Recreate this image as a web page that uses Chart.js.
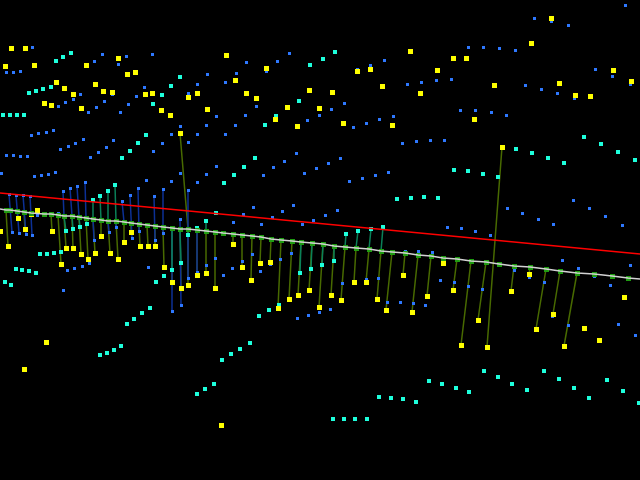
<!DOCTYPE html>
<html><head><meta charset="utf-8">
<style>html,body{margin:0;padding:0;background:#000;overflow:hidden}canvas{display:block}</style>
<script src="https://cdn.jsdelivr.net/npm/chart.js@4/dist/chart.umd.min.js"></script>
</head><body><canvas id="c" width="640" height="480"></canvas>
<script>
const yellowPoints=[[11,48],[25,48],[5,66],[34,65],[118,58],[86,65],[127,74],[135,72],[56,82],[64,88],[73,94],[95,84],[103,91],[112,92],[44,103],[51,105],[81,108],[145,94],[152,93],[188,97],[197,93],[161,110],[170,115],[207,109],[180,133],[226,55],[266,68],[235,80],[246,93],[256,98],[287,107],[309,90],[319,108],[275,119],[297,126],
[551,18],[531,43],[410,51],[453,58],[466,58],[357,71],[370,69],[437,70],[382,86],[420,93],[494,85],[332,92],[559,83],[575,95],[590,96],[613,70],[631,81],[343,123],[392,125],[474,119],[502,147],
[0,231],[8,246],[18,218],[25,229],[31,214],[37,210],[44,214],[52,231],[61,264],[66,248],[73,248],[81,254],[88,259],[95,253],[101,236],[110,253],[118,259],[124,242],[131,232],[140,246],[148,246],[155,246],[164,267],[172,282],[181,288],[188,285],[197,275],[206,273],
[215,288],[233,244],[242,267],[251,280],[260,263],[270,262],[278,308],[289,299],[298,295],[309,290],[319,307],[331,295],[341,300],[354,282],[366,282],[377,299],[386,310],[403,275],[412,312],[427,296],
[443,263],[453,290],[478,320],[511,291],[529,274],[553,314],[624,297],[46,342],[24,369],[221,425],[461,345],[487,347],[536,329],[564,346],[584,328],[599,340]];
const cyanPoints=[[71,53],[63,57],[56,61],[310,65],[180,77],[171,86],[162,95],[153,104],[51,87],[43,89],[36,91],[29,93],[3,115],[10,115],[17,115],[24,115],[146,135],[138,143],[130,151],[122,158],[255,158],[299,101],[276,116],[265,125],
[335,52],[323,59],[584,137],[601,144],[618,152],[635,160],[516,149],[532,153],[548,158],
[93,200],[100,196],[108,191],[115,185],[66,231],[73,229],[80,227],[87,224],[40,254],[47,254],[54,253],[61,252],[16,269],[22,270],[29,271],[36,273],[5,282],[11,285],[134,319],[142,313],[150,308],[156,282],[164,276],[172,270],[181,263],[188,235],[197,228],[206,221],
[216,213],[244,167],[234,175],[224,183],[346,234],[358,231],[371,229],[383,227],[334,261],[322,265],[311,269],[300,273],[279,305],[269,310],[259,316],[397,199],[411,198],[424,197],
[454,170],[468,171],[483,174],[498,177],[438,198],[564,163],
[100,355],[107,353],[114,350],[121,346],[127,324],[222,360],[231,354],[240,349],[250,343],[197,394],[205,389],[214,384],
[333,419],[344,419],[355,419],[367,419],[379,397],[391,398],[403,399],[416,402],[429,381],[442,384],[456,388],[469,392],[484,371],[498,377],[512,384],[527,390],[544,371],[559,379],[574,388],[589,398],[607,380],[623,391],[639,403]];
const bluePoints=[[32,47],[102,54],[94,61],[126,56],[118,64],[152,54],[6,72],[13,72],[20,71],[144,87],[80,94],[73,99],[65,102],[58,106],[112,94],[104,101],[96,107],[88,112],[136,96],[128,104],[120,112],[188,93],[197,84],[207,74],[225,82],[236,73],[246,62],[266,71],[277,61],[289,53],[216,116],[256,106],[245,115],[235,125],[225,134],[206,125],[197,134],[188,142],[180,126],[171,134],[162,143],[153,151],[307,120],[319,115],[296,153],[53,130],[46,132],[38,133],[31,135],[83,139],[75,143],[68,146],[60,149],[113,140],[106,147],[98,152],[90,157],[6,155],[13,155],[20,156],[27,156],
[625,5],[534,18],[551,21],[568,25],[468,47],[483,47],[499,48],[515,50],[595,69],[612,76],[630,84],[357,69],[370,65],[384,60],[407,84],[421,82],[436,80],[451,79],[525,85],[541,89],[557,93],[574,98],[344,103],[331,109],[393,116],[379,119],[366,123],[353,127],[460,110],[475,110],[491,112],[506,115],[402,143],[416,141],[430,140],[444,140],[340,158],
[1,173],[34,176],[41,175],[48,174],[55,172],[63,191],[70,188],[77,186],[85,182],[9,194],[16,195],[23,195],[30,196],[146,180],[171,181],[197,182],[206,174],[180,173],[138,188],[130,195],[122,201],[163,189],[154,196],[188,190],[180,219],[163,233],[12,232],[19,233],[26,234],[32,235],[132,238],[139,231],[116,227],[109,232],[94,240],[155,240],[67,270],[74,268],[82,266],[89,263],[148,267],[63,290],[206,265],[197,272],[188,278],[181,305],[172,311],[58,213],[37,215],
[216,166],[273,167],[263,175],[284,161],[304,173],[316,168],[328,163],[349,181],[362,178],[375,175],[388,172],[233,222],[243,214],[253,207],[261,224],[272,217],[282,211],[293,205],[302,224],[313,220],[325,215],[337,210],[215,258],[223,275],[232,268],[242,261],[252,254],[260,271],[270,264],[280,259],[291,253],[297,318],[308,315],[319,312],[330,309],[342,283],[366,279],[378,278],[387,302],[400,302],[405,251],[418,251],[413,303],[425,305],
[432,252],[447,227],[461,228],[475,231],[490,235],[440,280],[454,282],[468,286],[482,289],[507,208],[522,213],[538,219],[553,224],[573,200],[589,208],[605,216],[622,225],[562,260],[578,268],[594,276],[610,285],[630,265],[514,270],[529,277],[544,282],[552,316],[568,325],[618,324],[635,335]];
const modelX=[0,6,10,17,24,31,44,51,58,64,72,79,86,93,101,108,116,124,131,139,147,155,163,172,180,188,197,206,215,223,233,242,252,261,271,281,292,301,312,323,334,345,356,369,381,392,405,418,431,443,457,471,486,499,514,530,546,560,577,594,612,628,640];
const modelY=[209,210,210,211,212,213,214,214,215,216,216,217,218,219,220,221,221,222,223,224,225,226,227,228,229,229,230,231,232,233,234,235,236,237,239,240,241,242,243,244,246,247,248,249,251,252,253,255,256,258,259,261,262,264,266,267,269,271,273,274,276,278,279];
const redX=[0,640];
const redY=[193,254];
const oliveStems=[[6,210,8,246],[17,211,18,218],[24,212,25,229],[51,214,52,231],[58,215,61,264],[64,216,66,248],[72,216,73,248],[79,217,81,254],[86,218,88,259],[93,219,95,253],[101,220,101,236],[108,221,110,253],[116,221,118,259],[124,222,124,242],[131,223,131,232],[139,224,140,246],[147,225,148,246],[155,226,155,246],[163,227,164,267],[172,228,172,282],[180,229,181,288],[188,229,188,285],[197,230,197,275],[206,231,206,273],[180,133,188,229],
[215,232,215,288],[233,234,233,244],[242,235,242,267],[252,236,251,280],[261,237,260,263],[271,239,270,262],[281,240,278,308],[292,241,289,299],[301,242,298,295],[312,243,309,290],[323,244,319,307],[334,246,331,295],[345,247,341,300],[356,248,354,282],[369,249,366,282],[381,251,377,299],[392,252,386,310],[405,253,403,275],[418,255,412,312],
[431,256,427,296],[457,259,453,290],[471,261,461,345],[486,262,478,320],[502,147,487,347],[514,266,511,291],[530,267,529,274],[546,269,536,329],[560,271,553,314],[577,273,564,346],[594,274,584,328],[612,276,599,340],[628,278,624,297]];
const blueStems=[[9,194,12,232],[16,195,19,233],[23,195,26,234],[30,196,32,235],[63,191,64,216],[70,188,72,216],[77,186,79,217],[85,182,86,218],[93,219,94,240],[108,221,109,232],[122,201,124,222],[116,221,116,227],[130,195,132,238],[138,188,139,231],[154,196,155,240],[163,189,163,233],[188,190,188,278],[180,219,181,305],[172,228,172,311],[197,230,197,272],[206,231,206,265],
[233,222,232,268],[243,214,242,261],[253,207,252,254],[261,224,260,271],[272,217,270,264],[282,211,280,259],[293,205,291,253],[302,224,301,242],[313,220,312,243],[325,215,323,244],[337,210,334,246],[215,232,215,258],[369,249,366,279],[381,251,378,278],
[447,227,440,280],[461,228,454,282],[475,231,468,286],[490,235,482,289],[538,219,529,277],[553,224,544,282],[562,260,552,316],[578,268,577,273],[594,274,594,276],[622,225,610,285],[630,265,618,324]];
const cyanStems=[[93,200,93,219],[100,196,101,220],[108,191,108,221],[115,185,116,221],[64,216,66,231],[72,216,73,229],[79,217,80,227],[86,218,87,224],[180,229,181,263],[172,228,172,270],[188,229,188,235],[197,228,197,230],[206,221,206,231],
[346,234,345,247],[358,231,356,248],[371,229,369,249],[383,227,381,251],[334,246,334,261],[323,244,322,265],[312,243,311,269],[301,242,300,273]];
const toXY=a=>a.map(p=>({x:p[0],y:p[1]}));
const segs=a=>a.flatMap(s=>[{x:s[0],y:s[1]},{x:s[2],y:s[3]},{x:NaN,y:NaN}]);
const zip=(xs,ys)=>xs.map((x,i)=>({x,y:ys[i]}));
const line=(data,color,w,order)=>({type:'line',data,borderColor:color,borderWidth:w,pointRadius:0,spanGaps:false,tension:0,fill:false,order,xAxisID:'x2',yAxisID:'y2',parsing:false,normalized:false});
const pts=(data,color,side,order,even)=>({type:'scatter',data,backgroundColor:color,borderWidth:0,pointStyle:'rect',pointRadius:side/Math.SQRT2,pointHoverRadius:side/Math.SQRT2,order,xAxisID:even?'x2':'x',yAxisID:even?'y2':'y'});
const hx=(min,max)=>({type:'linear',display:false,min,max});
new Chart(document.getElementById('c'),{
 type:'scatter',
 data:{datasets:[
  line(segs(oliveStems),'#486a00',1.5,10),
  line(segs(blueStems),'#0c3096',1.5,9),
  line(segs(cyanStems),'#0a8058',1.5,8),
  pts(toXY(bluePoints),'#2e78ff',3,7,false),
  pts(toXY(cyanPoints),'#1effdc',4,6,true),
  pts(toXY(yellowPoints),'#ffff00',5,5,false),
  pts(zip(modelX.slice(1,-1),modelY.slice(1,-1)),'#1f9c12',5,4,false),
  line(zip(redX,redY),'#ff0000',1.5,3),
  line(zip(modelX,modelY),'#d2d2d2',1.5,2)
 ]},
 options:{
  responsive:false,animation:false,devicePixelRatio:1,
  layout:{padding:0,autoPadding:false},
  plugins:{legend:{display:false},tooltip:{enabled:false},title:{display:false}},
  events:[],
  scales:{
   x:hx(-0.5,639.5),
   y:{...hx(-0.5,479.5),reverse:true},
   x2:hx(0,640),
   y2:{...hx(0,480),reverse:true}
  }
 },
 plugins:[{id:'bg',beforeDraw(c){const g=c.ctx;g.save();g.fillStyle='#000';g.fillRect(0,0,c.width,c.height);g.restore();}}]
});
</script></body></html>
